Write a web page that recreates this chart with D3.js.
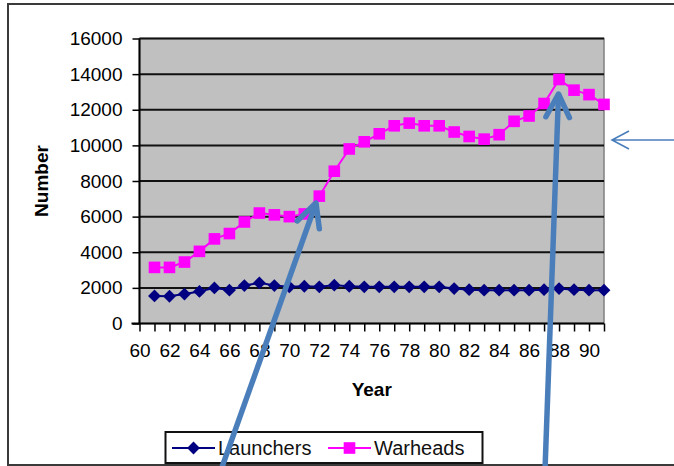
<!DOCTYPE html>
<html>
<head>
<meta charset="utf-8">
<script src="https://cdn.jsdelivr.net/npm/d3@7"></script>
<style>
  body { margin: 0; background: #fff; }
  text { font-family: "Liberation Sans", Arial, sans-serif; }
</style>
</head>
<body>
<svg id="svg"></svg>
<script>
// data
const years = [61, 62, 63, 64, 65, 66, 67, 68, 69, 70, 71, 72, 73, 74, 75, 76,
    77, 78, 79, 80, 81, 82, 83, 84, 85, 86, 87, 88, 89, 90, 91];
const launchers = [1550, 1530, 1650, 1800, 2000, 1870, 2130, 2280, 2130, 2060,
    2090, 2060, 2150, 2090, 2060, 2060, 2060, 2060, 2060, 2060, 1960, 1900,
    1870, 1870, 1870, 1870, 1900, 1960, 1900, 1870, 1870];
const warheads = [3150, 3150, 3450, 4050, 4750, 5050, 5700, 6200, 6100, 6000,
    6150, 7150, 8550, 9800, 10200, 10650, 11100, 11250, 11100, 11100, 10750,
    10500, 10350, 10600, 11350, 11650, 12350, 13700, 13100, 12850, 12300];
const yTicks = [0, 2000, 4000, 6000, 8000, 10000, 12000, 14000, 16000];
const xLabels = [60, 62, 64, 66, 68, 70, 72, 74, 76, 78, 80, 82, 84, 86, 88, 90];
const seriesNames = ["Launchers", "Warheads"];

const width = 674;
const height = 466;

const plot = { left: 139.5, right: 604, top: 38.5, bottom: 323.5 };

const svg = d3.select("#svg")
    .attr("width", width)
    .attr("height", height);

const x = d3.scaleLinear()
    .domain([60, 91])
    .range([plot.left, plot.right]);

const y = d3.scaleLinear()
    .domain([0, 16000])
    .range([plot.bottom, plot.top]);

// outer chart frame
svg.append("rect")
    .attr("x", 8)
    .attr("y", 4)
    .attr("width", 700)
    .attr("height", 461)
    .attr("fill", "#fff")
    .attr("stroke", "#3a3a3a")
    .attr("stroke-width", 2);

// plot area
svg.append("rect")
    .attr("x", plot.left)
    .attr("y", plot.top)
    .attr("width", plot.right - plot.left)
    .attr("height", plot.bottom - plot.top)
    .attr("fill", "#c0c0c0")
    .attr("stroke", "#808080")
    .attr("stroke-width", 1.5);

// gridlines
svg.append("g")
    .selectAll("line")
    .data(yTicks.filter((d) => d > 0))
    .join("line")
    .attr("x1", plot.left)
    .attr("x2", plot.right)
    .attr("y1", (d) => y(d))
    .attr("y2", (d) => y(d))
    .attr("stroke", "#111")
    .attr("stroke-width", 2);

// y axis
const yAxis = d3.axisLeft(y)
    .tickValues(yTicks)
    .tickSize(7)
    .tickPadding(10)
    .tickFormat((d) => d);

const gy = svg.append("g")
    .attr("transform", `translate(${plot.left},0)`)
    .call(yAxis);
gy.select(".domain").remove();
gy.append("line")
    .attr("x1", 0).attr("x2", 0)
    .attr("y1", plot.top).attr("y2", plot.bottom)
    .attr("stroke", "#000")
    .attr("stroke-width", 2);

// x axis
const xAxis = d3.axisBottom(x)
    .tickValues(d3.range(60, 92))
    .tickSize(8)
    .tickPadding(12)
    .tickFormat((d) => (xLabels.includes(d) ? d : ""));

const gx = svg.append("g")
    .attr("transform", `translate(0,${plot.bottom})`)
    .call(xAxis);
gx.select(".domain").remove();
gx.append("line")
    .attr("x1", plot.left - 8).attr("x2", plot.right)
    .attr("y1", 0).attr("y2", 0)
    .attr("stroke", "#000")
    .attr("stroke-width", 2);

svg.selectAll(".tick line").attr("stroke", "#000").attr("stroke-width", 1.5);
svg.selectAll(".tick text")
    .attr("fill", "#000")
    .style("font-size", "19px");

// axis titles
svg.append("text")
    .attr("x", (plot.left + plot.right) / 2)
    .attr("y", 396)
    .attr("text-anchor", "middle")
    .style("font-size", "19px")
    .style("font-weight", "bold")
    .attr("fill", "#000")
    .text("Year");

svg.append("text")
    .attr("transform", `translate(48,${(plot.top + plot.bottom) / 2}) rotate(-90)`)
    .attr("text-anchor", "middle")
    .style("font-size", "19px")
    .style("font-weight", "bold")
    .attr("fill", "#000")
    .text("Number");

// lines
const line = d3.line()
    .x((d, i) => x(years[i]))
    .y((d) => y(d));

svg.append("path")
    .datum(launchers)
    .attr("d", line)
    .attr("fill", "none")
    .attr("stroke", "#000080")
    .attr("stroke-width", 2);

svg.append("path")
    .datum(warheads)
    .attr("d", line)
    .attr("fill", "none")
    .attr("stroke", "#ff00ff")
    .attr("stroke-width", 2);

const diamond = d3.symbol().type(d3.symbolDiamond2).size(105);
const square = d3.symbol().type(d3.symbolSquare).size(135);

svg.append("g")
    .selectAll("path")
    .data(launchers)
    .join("path")
    .attr("d", diamond)
    .attr("transform", (d, i) => `translate(${x(years[i])},${y(d)})`)
    .attr("fill", "#000080");

svg.append("g")
    .selectAll("path")
    .data(warheads)
    .join("path")
    .attr("d", square)
    .attr("transform", (d, i) => `translate(${x(years[i])},${y(d)})`)
    .attr("fill", "#ff00ff");

// legend
const legend = svg.append("g");
legend.append("rect")
    .attr("x", 165.5)
    .attr("y", 432)
    .attr("width", 317)
    .attr("height", 31)
    .attr("fill", "#fff")
    .attr("stroke", "#111")
    .attr("stroke-width", 2);

const legendItems = [
    { name: seriesNames[0], color: "#000080", sym: diamond, x0: 172 },
    { name: seriesNames[1], color: "#ff00ff", sym: square, x0: 328 },
];

legendItems.forEach((d) => {
    legend.append("line")
        .attr("x1", d.x0).attr("x2", d.x0 + 43)
        .attr("y1", 448).attr("y2", 448)
        .attr("stroke", d.color)
        .attr("stroke-width", 2);
    legend.append("path")
        .attr("d", d.sym)
        .attr("transform", `translate(${d.x0 + 21.5},448)`)
        .attr("fill", d.color);
    legend.append("text")
        .attr("x", d.x0 + 46)
        .attr("y", 455)
        .style("font-size", "20px")
        .attr("fill", "#111")
        .text(d.name);
});

// blue annotation arrows
const arrowColor = "#4a7ebb";

function thickArrow(x1, y1, x2, y2) {
    const ang = Math.atan2(y2 - y1, x2 - x1);
    const len = 26;
    const spread = 0.47;
    const g = svg.append("g")
        .attr("stroke", arrowColor)
        .attr("stroke-width", 5.5)
        .attr("fill", "none");
    g.append("line")
        .attr("x1", x1).attr("y1", y1)
        .attr("x2", x2).attr("y2", y2);
    g.append("path")
        .attr("stroke-linecap", "round")
        .attr("stroke-linejoin", "round")
        .attr("d", `M${x2 - len * Math.cos(ang - spread)},${y2 - len * Math.sin(ang - spread)}
            L${x2},${y2}
            L${x2 - len * Math.cos(ang + spread)},${y2 - len * Math.sin(ang + spread)}`);
}

thickArrow(221, 470, 316, 203);
thickArrow(545, 470, 558.5, 94);

// thin arrow on the right
svg.append("path")
    .attr("d", "M680,140 L612,140 M629,131 L612,140 L629,149")
    .attr("fill", "none")
    .attr("stroke", arrowColor)
    .attr("stroke-width", 1.6);
</script>
</body>
</html>
